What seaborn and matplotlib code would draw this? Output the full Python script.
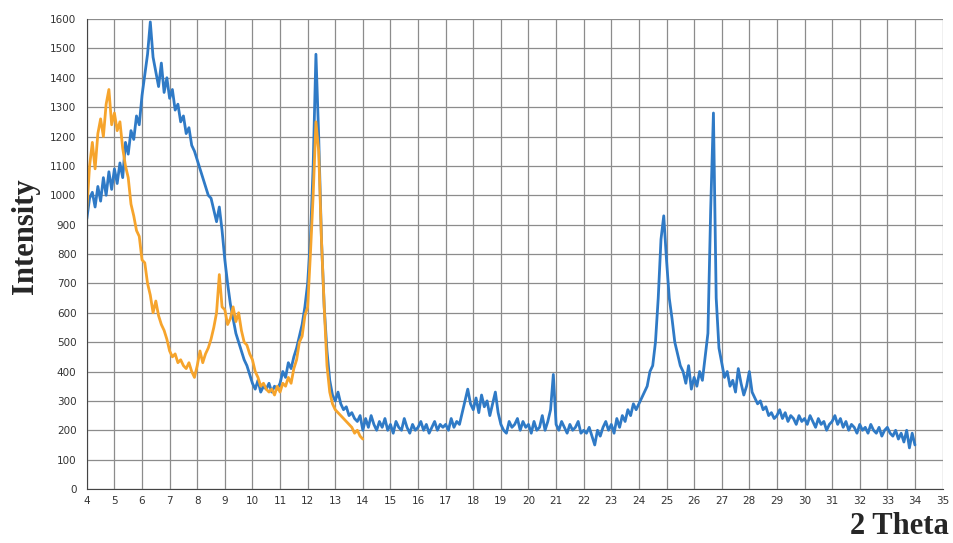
import numpy as np
import pandas as pd
import matplotlib
matplotlib.use('Agg')
import matplotlib.pyplot as plt
from matplotlib.ticker import MultipleLocator
import seaborn as sns

# 2 theta grid (step 0.1) and intensities
blue_theta = np.round(np.arange(4.0, 34.0001, 0.1), 1)
blue_counts = [
    920, 990, 1010, 960, 1030, 980, 1060, 1000, 1080, 1020,
    1090, 1040, 1110, 1060, 1180, 1140, 1220, 1190, 1270, 1240,
    1340, 1410, 1480, 1590, 1470, 1420, 1370, 1450, 1350, 1400,
    1330, 1360, 1290, 1310, 1250, 1270, 1210, 1230, 1170, 1150,
    1120, 1090, 1060, 1030, 1000, 990, 950, 910, 960, 880,
    780, 700, 630, 580, 530, 500, 470, 440, 420, 390,
    360, 340, 370, 330, 350, 340, 360, 330, 350, 340,
    360, 400, 380, 430, 410, 450, 480, 520, 560, 620,
    700, 850, 1100, 1480, 1200, 850, 620, 470, 370, 320,
    300, 330, 290, 270, 280, 250, 260, 240, 230, 250,
    200, 240, 210, 250, 220, 200, 230, 210, 240, 200,
    220, 190, 230, 210, 200, 240, 210, 190, 220, 200,
    210, 230, 200, 220, 190, 210, 230, 200, 220, 210,
    220, 200, 240, 210, 230, 220, 260, 300, 340, 290,
    270, 310, 260, 320, 280, 300, 250, 290, 330, 260,
    220, 200, 190, 230, 210, 220, 240, 200, 230, 210,
    220, 190, 230, 200, 210, 250, 200, 230, 270, 390,
    220, 200, 230, 210, 190, 220, 200, 210, 230, 190,
    200, 190, 210, 180, 150, 200, 180, 210, 230, 200,
    220, 190, 240, 210, 250, 230, 270, 250, 290, 270,
    290, 310, 330, 350, 400, 420, 500, 650, 850, 930,
    780, 650, 580, 500, 460, 420, 400, 360, 420, 340,
    380, 350, 400, 370, 450, 530, 950, 1280, 650, 480,
    430, 380, 400, 350, 370, 330, 410, 360, 320, 350,
    400, 330, 310, 290, 300, 270, 280, 250, 260, 240,
    250, 270, 240, 260, 230, 250, 240, 220, 250, 230,
    240, 220, 250, 230, 210, 240, 220, 230, 200, 220,
    230, 250, 220, 240, 210, 230, 200, 220, 210, 190,
    220, 200, 210, 190, 220, 200, 190, 210, 180, 200,
    210, 190, 180, 200, 170, 190, 160, 200, 140, 190,
    150,
]

orange_theta = np.round(np.arange(4.0, 14.0001, 0.1), 1)
orange_counts = [
    950, 1100, 1180, 1090, 1210, 1260, 1200, 1310, 1360, 1240,
    1280, 1220, 1250, 1160, 1100, 1060, 970, 930, 880, 860,
    780, 770, 700, 660, 600, 640, 590, 560, 540, 510,
    470, 450, 460, 430, 440, 420, 410, 430, 400, 380,
    420, 470, 430, 460, 480, 510, 550, 600, 730, 620,
    610, 560, 580, 620, 570, 600, 540, 500, 490, 460,
    440, 400, 380, 350, 360, 340, 330, 340, 320, 350,
    330, 360, 350, 380, 360, 410, 440, 500, 520, 590,
    620, 800, 1000, 1250, 1150, 850, 620, 420, 330, 290,
    270, 260, 250, 240, 230, 220, 210, 190, 200, 180,
    170,
]

blue_df = pd.DataFrame({'theta': blue_theta, 'counts': blue_counts})
orange_df = pd.DataFrame({'theta': orange_theta, 'counts': orange_counts})

sns.set_style('white')
fig = plt.figure(figsize=(9.54, 5.43), dpi=100)
ax = fig.add_axes([0.091, 0.0994, 0.897, 0.8656])

sns.lineplot(data=blue_df, x='theta', y='counts', ax=ax, color='#2f7ac6', lw=2.0)
sns.lineplot(data=orange_df, x='theta', y='counts', ax=ax, color='#f6a42c', lw=2.0)

ax.set_xlim(4, 35)
ax.set_ylim(0, 1600)
ax.xaxis.set_major_locator(MultipleLocator(1))
ax.xaxis.set_minor_locator(MultipleLocator(0.2))
ax.yaxis.set_major_locator(MultipleLocator(100))
ax.yaxis.set_minor_locator(MultipleLocator(20))
ax.grid(True, which='major', color='#8c8c8c', lw=0.9)
ax.set_axisbelow(True)
for s in ['top', 'right']:
    ax.spines[s].set_visible(False)
for s in ['left', 'bottom']:
    ax.spines[s].set_color('#444444')
ax.tick_params(which='major', length=4, width=0.8, labelsize=7.5,
               colors='#333333', direction='out')
ax.tick_params(which='minor', length=2, width=0.6, colors='#555555')
ax.tick_params(axis='x', pad=1)
ax.set_xlabel('')
ax.set_ylabel('')

fig.text(0.027, 0.565, 'Intensity', rotation=90, ha='center', va='center',
         fontsize=22, fontweight='bold', family='Liberation Serif')
fig.text(0.995, 0.03, '2 Theta', ha='right', va='center',
         fontsize=22, fontweight='bold', family='Liberation Serif')

fig.savefig('out.png', dpi=100)
